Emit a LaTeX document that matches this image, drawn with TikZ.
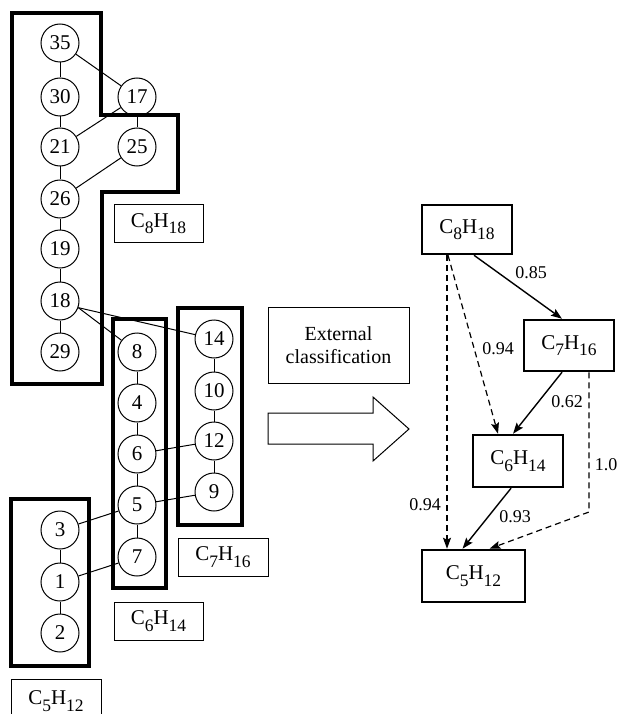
\documentclass[tikz,border=0pt]{standalone}
\usepackage{fontspec}
\setmainfont{Liberation Serif}
\usetikzlibrary{arrows.meta,calc}
\newcommand\sbx[1]{\raisebox{-0.3em}{\fontsize{17.5}{17.5}\selectfont #1}}
\newcommand\mol[2]{C\sbx{#1}H\sbx{#2}}
\begin{document}
\begin{tikzpicture}[x=1pt,y=-1pt,
  atom/.style={circle,draw,line width=1pt,minimum size=38pt,inner sep=0pt,font=\fontsize{21}{21}\selectfont},
  grp/.style={draw,line width=3.5pt,line join=miter},
  lbl/.style={draw,line width=1pt,minimum width=89pt,minimum height=38pt,inner sep=0pt,font=\fontsize{21}{21}\selectfont},
  cls/.style={draw,line width=2.5pt,minimum width=90pt,minimum height=50pt,inner sep=0pt,font=\fontsize{21}{21}\selectfont},
  bond/.style={line width=1pt},
  solidarr/.style={line width=1.4pt,-{Stealth[length=11pt,width=8pt,inset=2pt]}},
  dasharr/.style={line width=1.2pt,dash pattern=on 6pt off 4pt,-{Stealth[length=11pt,width=8pt,inset=2pt]}},
  num/.style={font=\fontsize{18}{18}\selectfont,inner sep=0pt}]
\useasboundingbox (0,0) rectangle (619,714);
% group outlines
\draw[grp] (12,13) -- (101,13) -- (101,115) -- (178,115) -- (178,192) -- (102,192) -- (102,384) -- (12,384) -- cycle;
\draw[grp] (113,319) rectangle (166,588);
\draw[grp] (178,308) rectangle (242,525);
\draw[grp] (11,499) rectangle (89,666);
% atoms
\node[atom] (n35) at (60,43) {35};
\node[atom] (n30) at (60,97) {30};
\node[atom] (n17) at (137,97) {17};
\node[atom] (n21) at (60,147) {21};
\node[atom] (n25) at (137,147) {25};
\node[atom] (n26) at (60,199) {26};
\node[atom] (n19) at (60,249) {19};
\node[atom] (n18) at (60,301) {18};
\node[atom] (n29) at (60,352) {29};
\node[atom] (n8) at (137,352) {8};
\node[atom] (n4) at (137,403) {4};
\node[atom] (n6) at (137,454) {6};
\node[atom] (n5) at (137,505) {5};
\node[atom] (n7) at (137,557) {7};
\node[atom] (n14) at (214,339) {14};
\node[atom] (n10) at (214,391) {10};
\node[atom] (n12) at (214,441) {12};
\node[atom] (n9) at (214,492) {9};
\node[atom] (n3) at (60,530) {3};
\node[atom] (n1) at (60,582) {1};
\node[atom] (n2) at (60,633) {2};
% bonds
\draw[bond] (n35) -- (n30);
\draw[bond] (n30) -- (n21);
\draw[bond] (n21) -- (n26);
\draw[bond] (n26) -- (n19);
\draw[bond] (n19) -- (n18);
\draw[bond] (n18) -- (n29);
\draw[bond] (n35) -- (n17);
\draw[bond] (n17) -- (n21);
\draw[bond] (n17) -- (n25);
\draw[bond] (n25) -- (n26);
\draw[bond] (n18.-20) -- (n8);
\draw[bond] (n18.-20) -- (n14);
\draw[bond] (n8) -- (n4);
\draw[bond] (n4) -- (n6);
\draw[bond] (n6) -- (n5);
\draw[bond] (n5) -- (n7);
\draw[bond] (n14) -- (n10);
\draw[bond] (n10) -- (n12);
\draw[bond] (n12) -- (n9);
\draw[bond] (n6) -- (n12);
\draw[bond] (n5) -- (n9);
\draw[bond] (n3) -- (n5);
\draw[bond] (n1) -- (n7);
\draw[bond] (n3) -- (n1);
\draw[bond] (n1) -- (n2);
% group labels
\node[lbl] (l8) at (158.5,223.5) {\mol{8}{18}};
\node[lbl,minimum width=90pt] (l7) at (223,557) {\mol{7}{16}};
\node[lbl] (l6) at (158.5,621) {\mol{6}{14}};
\node[lbl,minimum width=90pt,minimum height=44pt] (l5) at (56,701) {\mol{5}{12}};
% external classification
\node[draw,line width=1pt,minimum width=141pt,minimum height=76pt,inner sep=0pt,align=center,font=\fontsize{20}{23}\selectfont] (ext) at (338.5,345) {External\\classification};
\draw[line width=1pt,line join=miter] (268,413) -- (373,413) -- (373,397) -- (409,429) -- (373,461) -- (373,444) -- (268,444) -- cycle;
% classes
\node[cls,minimum height=49pt] (r8) at (467,229.5) {\mol{8}{18}};
\node[cls,minimum height=51pt] (r7) at (569,345.5) {\mol{7}{16}};
\node[cls,minimum height=52pt] (r6) at (518,461) {\mol{6}{14}};
\node[cls,minimum width=103pt,minimum height=52pt] (r5) at (473.5,576) {\mol{5}{12}};
\coordinate (bend) at (589,512);
\draw[solidarr] ([xshift=7pt]r8.south) -- ([xshift=-7pt]r7.north);
\draw[dasharr] ([xshift=-19pt]r8.south) -- ([xshift=-20pt]r6.north);
\draw[dasharr] ([xshift=-20pt]r8.south) -- ([xshift=-26.5pt]r5.north);
\draw[solidarr] ([xshift=-7pt]r7.south) -- ([xshift=-5pt]r6.north);
\draw[dasharr] ([xshift=20pt]r7.south) -- (bend) -- ([xshift=16pt]r5.north);
\draw[solidarr] ([xshift=-7pt]r6.south) -- ([xshift=-11pt]r5.north);
% weights
\node[num] (w1) at (531,273) {0.85};
\node[num] (w2) at (498,349) {0.94};
\node[num] (w3) at (425,505) {0.94};
\node[num] (w4) at (567,402) {0.62};
\node[num] (w5) at (606,465) {1.0};
\node[num] (w6) at (515,517) {0.93};
\end{tikzpicture}
\end{document}
